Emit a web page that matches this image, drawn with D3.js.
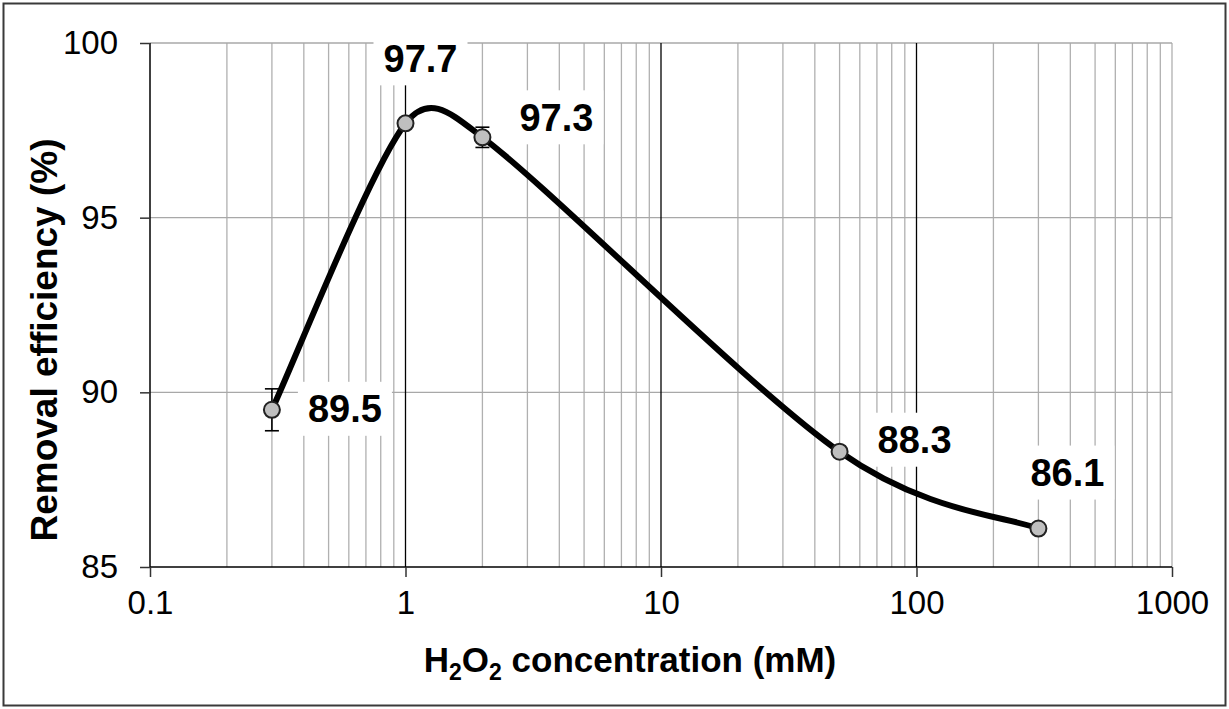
<!DOCTYPE html>
<html>
<head>
<meta charset="utf-8">
<script src="https://cdn.jsdelivr.net/npm/d3@7"></script>
<style>
body { margin:0; background:#fff; }
svg { display:block; font-family: Arial, "Liberation Sans", sans-serif; }
</style>
</head>
<body>
<svg id="chart" width="1229" height="709"></svg>
<script>
const concentrations = [0.3, 1, 2, 50, 300];
const efficiency = [89.5, 97.7, 97.3, 88.3, 86.1];
const errors = [0.6, 0.1, 0.29, 0.1, 0.1];
const pointLabels = ["89.5", "97.7", "97.3", "88.3", "86.1"];
const xTickValues = [0.1, 1, 10, 100, 1000];
const xTickLabels = ["0.1", "1", "10", "100", "1000"];
const yTickValues = [85, 90, 95, 100];
// label offsets (pixels) relative to point
const labelDx = [73, 15, 74, 75, 29];
const labelDy = [-1, -65, -20, -12, -56];

const svg = d3.select("#chart");
const W = 1229, H = 709;
const m = {left:150, right:57, top:43, bottom:142};
const x = d3.scaleLog().domain([0.1, 1000]).range([m.left, W - m.right]);
const y = d3.scaleLinear().domain([85, 100]).range([H - m.bottom, m.top]);

// Excel-style smoothed line as a d3 curve factory
function curveExcel(context) {
  let pts;
  return {
    areaStart() {}, areaEnd() {},
    lineStart() { pts = []; },
    point(px, py) { pts.push([+px, +py]); },
    lineEnd() {
      const n = pts.length;
      if (!n) return;
      context.moveTo(pts[0][0], pts[0][1]);
      for (let i = 0; i < n - 1; i++) {
        const p0 = pts[Math.max(i - 1, 0)], p1 = pts[i], p2 = pts[i + 1], p3 = pts[Math.min(i + 2, n - 1)];
        const d12 = Math.hypot(p2[0] - p1[0], p2[1] - p1[1]);
        const d02 = Math.hypot(p2[0] - p0[0], p2[1] - p0[1]);
        const d13 = Math.hypot(p3[0] - p1[0], p3[1] - p1[1]);
        let f0 = 1 / 6, f1 = 1 / 6;
        if (d02 / 6 > d12 / 2) f0 = d12 / 2 / d02;
        if (d13 / 6 > d12 / 2) f1 = d12 / 2 / d13;
        context.bezierCurveTo(
          p1[0] + f0 * (p2[0] - p0[0]), p1[1] + f0 * (p2[1] - p0[1]),
          p2[0] - f1 * (p3[0] - p1[0]), p2[1] - f1 * (p3[1] - p1[1]),
          p2[0], p2[1]);
      }
    }
  };
}

// outer border
svg.append("rect").attr("x", 3.5).attr("y", 3.5).attr("width", W - 7).attr("height", H - 7)
  .attr("fill", "#fff").attr("stroke", "#3a3a3a").attr("stroke-width", 2);

// minor vertical gridlines
const minor = [];
for (let d = 0.1; d < 1000; d *= 10) {
  for (let k = 2; k <= 9; k++) minor.push(+(d * k).toPrecision(3));
}
minor.push(1000);
const g = svg.append("g");
g.selectAll(".minor").data(minor).join("line")
  .attr("x1", d => x(d)).attr("x2", d => x(d))
  .attr("y1", y(100)).attr("y2", y(85))
  .attr("stroke", "#b0b0b0").attr("stroke-width", 1.3);
// horizontal gridlines
g.selectAll(".hg").data(yTickValues.filter(v => v > 85)).join("line")
  .attr("x1", x(0.1)).attr("x2", x(1000))
  .attr("y1", d => y(d)).attr("y2", d => y(d))
  .attr("stroke", "#a8a8a8").attr("stroke-width", 1.3);
// major vertical gridlines
g.selectAll(".major").data([1, 10, 100]).join("line")
  .attr("x1", d => x(d)).attr("x2", d => x(d))
  .attr("y1", y(100)).attr("y2", y(85))
  .attr("stroke", "#000").attr("stroke-width", 1.3);

// axes
const xAxis = d3.axisBottom(x).tickValues(xTickValues).tickFormat((d, i) => xTickLabels[i]).tickSize(10).tickPadding(14);
const gx = svg.append("g").attr("transform", `translate(0,${y(85)})`).call(xAxis);
gx.select(".domain").attr("stroke", "#000").attr("stroke-width", 1.5).attr("d", `M${x(0.1)},0H${x(1000)}`);
gx.selectAll(".tick line").attr("stroke", "#333").attr("stroke-width", 1.5);
gx.selectAll(".tick text").attr("font-size", 33).attr("fill", "#000").attr("font-family", "Arial, 'Liberation Sans', sans-serif");

const yAxis = d3.axisLeft(y).tickValues(yTickValues).tickSize(10).tickPadding(22);
const gy = svg.append("g").attr("transform", `translate(${x(0.1)},0)`).call(yAxis);
gy.select(".domain").attr("stroke", "#000").attr("stroke-width", 1.5).attr("d", `M0,${y(100)}V${y(85)}`);
gy.selectAll(".tick line").attr("stroke", "#333").attr("stroke-width", 1.5);
gy.selectAll(".tick text").attr("font-size", 33).attr("fill", "#000").attr("font-family", "Arial, 'Liberation Sans', sans-serif");

// label boxes (white background hides gridlines)
const data = concentrations.map((c, i) => ({c, v: efficiency[i], e: errors[i], lab: pointLabels[i], dx: labelDx[i], dy: labelDy[i]}));
const lg = svg.append("g");
data.forEach(d => {
  const cx = x(d.c) + d.dx, cy = y(d.v) + d.dy;
  lg.append("rect").attr("x", cx - 47).attr("y", cy - 27).attr("width", 94).attr("height", 54).attr("fill", "#fff");
});

// error bars
const eb = svg.append("g").attr("stroke", "#000").attr("stroke-width", 1.6);
data.forEach(d => {
  const px = x(d.c);
  eb.append("line").attr("x1", px).attr("x2", px).attr("y1", y(d.v + d.e)).attr("y2", y(d.v - d.e));
  eb.append("line").attr("x1", px - 7).attr("x2", px + 7).attr("y1", y(d.v + d.e)).attr("y2", y(d.v + d.e));
  eb.append("line").attr("x1", px - 7).attr("x2", px + 7).attr("y1", y(d.v - d.e)).attr("y2", y(d.v - d.e));
});

// smoothed line
const line = d3.line().x(d => x(d.c)).y(d => y(d.v)).curve(curveExcel);
svg.append("path").datum(data).attr("d", line).attr("fill", "none").attr("stroke", "#000").attr("stroke-width", 6).attr("stroke-linejoin", "round");

// markers
svg.append("g").selectAll("circle").data(data).join("circle")
  .attr("cx", d => x(d.c)).attr("cy", d => y(d.v)).attr("r", 8)
  .attr("fill", "#bfbfbf").attr("stroke", "#222").attr("stroke-width", 2);

// data labels
data.forEach(d => {
  const cx = x(d.c) + d.dx, cy = y(d.v) + d.dy;
  lg.append("text").attr("x", cx).attr("y", cy).attr("dy", "0.36em").attr("text-anchor", "middle")
    .attr("font-size", 38).attr("font-weight", "bold").attr("fill", "#000").text(d.lab);
});

// axis titles
const xt = svg.append("text").attr("x", 630).attr("y", 672).attr("text-anchor", "middle")
  .attr("font-size", 35).attr("font-weight", "bold").attr("fill", "#000");
xt.append("tspan").text("H");
xt.append("tspan").attr("font-size", 23).attr("dy", 8).text("2");
xt.append("tspan").attr("dy", -8).text("O");
xt.append("tspan").attr("font-size", 23).attr("dy", 8).text("2");
xt.append("tspan").attr("dy", -8).text(" concentration (mM)");

svg.append("text").attr("transform", "translate(57,340) rotate(-90)").attr("text-anchor", "middle")
  .attr("font-size", 37).attr("font-weight", "bold").attr("fill", "#000").text("Removal efficiency (%)");
</script>
</body>
</html>
